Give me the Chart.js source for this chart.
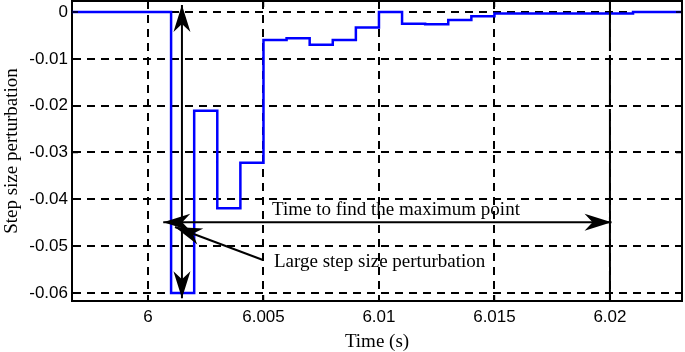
<!DOCTYPE html>
<html>
<head>
<meta charset="utf-8">
<script src="https://cdn.jsdelivr.net/npm/chart.js@4.4.1/dist/chart.umd.min.js"></script>
<style>
  html, body { margin: 0; padding: 0; background: #fff; }
  #wrap { width: 685px; height: 352px; }
</style>
</head>
<body>
<div id="wrap"><canvas id="chart" width="685" height="352"></canvas></div>
<script>
// each value is held from its time until the next time (step plot)
const stepTimes  = [5.99671, 6.001, 6.002, 6.003, 6.004, 6.005, 6.006, 6.007, 6.008, 6.009,
                    6.010, 6.011, 6.012, 6.013, 6.014, 6.015, 6.021, 6.02312];
const stepValues = [0, -0.0600, -0.0211, -0.0419, -0.0322, -0.0060, -0.0056, -0.0070, -0.0060, -0.0033,
                    0, -0.0025, -0.0026, -0.0017, -0.0009, -0.0003, 0, 0];

const xTicks = [6, 6.005, 6.01, 6.015, 6.02];
const xTickLabels = ["6", "6.005", "6.01", "6.015", "6.02"];
const yTicks = [-0.06, -0.05, -0.04, -0.03, -0.02, -0.01, 0];
const yTickLabels = ["-0.06", "-0.05", "-0.04", "-0.03", "-0.02", "-0.01", "0"];
const xRange = [5.99671, 6.02312];
const yRange = [-0.06171, 0.00235];

const xTitle = "Time (s)";
const yTitle = "Step size perturbation";
const note1 = "Time to find the maximum point";
const note2 = "Large step size perturbation";

const serif = "'Liberation Serif', 'Times New Roman', serif";
const sans = "'Liberation Sans', Arial, sans-serif";

function arrowHead(ctx, x0, y0, x1, y1) {
  // barbed head with its tip at (x1, y1)
  const ang = Math.atan2(y1 - y0, x1 - x0);
  ctx.save();
  ctx.translate(x1, y1);
  ctx.rotate(ang);
  ctx.beginPath();
  ctx.moveTo(0, 0);
  ctx.lineTo(-27, -8.5);
  ctx.lineTo(-19, 0);
  ctx.lineTo(-27, 8.5);
  ctx.closePath();
  ctx.fill();
  ctx.restore();
}

function arrow(ctx, x0, y0, x1, y1, both) {
  ctx.beginPath();
  ctx.moveTo(x0, y0);
  ctx.lineTo(x1, y1);
  ctx.stroke();
  arrowHead(ctx, x0, y0, x1, y1);
  if (both) arrowHead(ctx, x1, y1, x0, y0);
}

const framePlugin = {
  id: "frame",
  afterDatasetsDraw(chart) {
    const ctx = chart.ctx;
    const a = chart.chartArea;
    const xs = chart.scales.x, ys = chart.scales.y;
    ctx.save();
    ctx.strokeStyle = "#000";
    ctx.fillStyle = "#000";

    // inward tick marks on all four sides
    ctx.lineWidth = 1.5;
    ctx.beginPath();
    xTicks.forEach(v => {
      const px = xs.getPixelForValue(v);
      ctx.moveTo(px, a.bottom); ctx.lineTo(px, a.bottom - 6);
      ctx.moveTo(px, a.top); ctx.lineTo(px, a.top + 6);
    });
    yTicks.forEach(v => {
      const py = ys.getPixelForValue(v);
      ctx.moveTo(a.left, py); ctx.lineTo(a.left + 6, py);
      ctx.moveTo(a.right, py); ctx.lineTo(a.right - 6, py);
    });
    ctx.stroke();

    // top and right box lines
    ctx.lineWidth = 2;
    ctx.beginPath();
    ctx.moveTo(a.left, a.top); ctx.lineTo(a.right, a.top); ctx.lineTo(a.right, a.bottom);
    ctx.stroke();

    // near-solid guide line at the end time
    ctx.setLineDash([50, 4]);
    ctx.beginPath();
    ctx.moveTo(xs.getPixelForValue(6.02), a.top);
    ctx.lineTo(xs.getPixelForValue(6.02), a.bottom);
    ctx.stroke();
    ctx.setLineDash([]);

    // annotations
    ctx.lineWidth = 2;
    arrow(ctx, xs.getPixelForValue(6.00147), ys.getPixelForValue(-0.0611),
               xs.getPixelForValue(6.00147), ys.getPixelForValue(0.0015), true);
    arrow(ctx, xs.getPixelForValue(6.02007), ys.getPixelForValue(-0.0449),
               xs.getPixelForValue(6.00066), ys.getPixelForValue(-0.0449), true);
    arrow(ctx, xs.getPixelForValue(6.00498), ys.getPixelForValue(-0.05296),
               xs.getPixelForValue(6.00117), ys.getPixelForValue(-0.04591), false);

    ctx.font = "19px " + serif;
    ctx.textBaseline = "alphabetic";
    ctx.textAlign = "left";
    ctx.fillText(note1, xs.getPixelForValue(6.00537), ys.getPixelForValue(-0.04335));
    ctx.fillText(note2, xs.getPixelForValue(6.005455), ys.getPixelForValue(-0.05452));
    ctx.restore();
  }
};

const points = stepTimes.map((t, i) => ({x: t, y: stepValues[i]}));

new Chart(document.getElementById("chart"), {
  type: "line",
  data: {
    datasets: [{
      data: points,
      borderColor: "#0000ff",
      borderWidth: 2.5,
      pointRadius: 0,
      stepped: "before",
      fill: false
    }]
  },
  options: {
    responsive: false,
    animation: false,
    layout: { padding: { top: 1, right: 3, left: 0, bottom: 0 } },
    plugins: { legend: { display: false }, tooltip: { enabled: false } },
    scales: {
      x: {
        type: "linear",
        min: xRange[0],
        max: xRange[1],
        afterBuildTicks: s => { s.ticks = xTicks.map(v => ({value: v})); },
        afterFit: s => { s.height = 51; s.paddingLeft = 0; s.paddingRight = 0; },
        ticks: {
          callback: (v, i) => xTickLabels[i],
          font: { family: sans, size: 17 },
          color: "#000",
          padding: 6,
          maxRotation: 0,
          autoSkip: false
        },
        grid: { color: "#000", lineWidth: 2, drawTicks: false },
        border: { display: true, color: "#000", width: 2, dash: [8, 6] },
        title: {
          display: true,
          text: xTitle,
          color: "#000",
          font: { family: serif, size: 19, lineHeight: 1 },
          padding: { top: 0, bottom: 0 }
        }
      },
      y: {
        type: "linear",
        min: yRange[0],
        max: yRange[1],
        afterBuildTicks: s => { s.ticks = yTicks.map(v => ({value: v})); },
        afterFit: s => { s.width = 72; s.paddingTop = 0; s.paddingBottom = 0; },
        ticks: {
          callback: (v, i) => yTickLabels[i],
          font: { family: sans, size: 17 },
          color: "#000",
          padding: 4,
          autoSkip: false
        },
        grid: { color: "#000", lineWidth: 2, drawTicks: false },
        border: { display: true, color: "#000", width: 2, dash: [8, 6] },
        title: {
          display: true,
          text: yTitle,
          color: "#000",
          font: { family: serif, size: 19, lineHeight: 1 },
          padding: { top: 3, bottom: 0 }
        }
      }
    }
  },
  plugins: [framePlugin]
});
</script>
</body>
</html>
